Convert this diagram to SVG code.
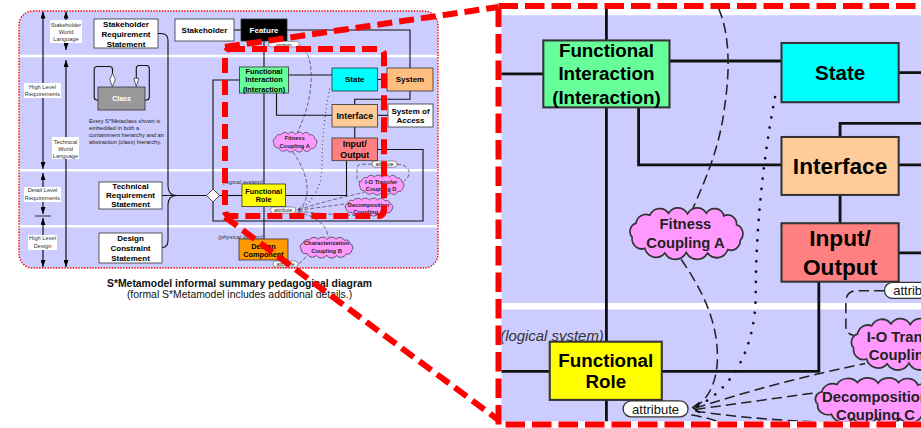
<svg xmlns="http://www.w3.org/2000/svg" xmlns:xlink="http://www.w3.org/1999/xlink" width="921" height="428" viewBox="0 0 921 428">
<style>
.bg{fill:#CCCCFF}
.lane{stroke:#FFFFFF;stroke-width:2.5}
.box{stroke:#333;stroke-width:0.8}
.t{font-family:"Liberation Sans",Arial,sans-serif;font-weight:bold;text-anchor:middle;fill:#000}
.conn{fill:none;stroke:#111;stroke-width:1.1}
.dash{fill:none;stroke:#222;stroke-width:0.6;stroke-dasharray:4 2}
.dot{fill:none;stroke:#111;stroke-width:1.05;stroke-dasharray:0.01 4;stroke-linecap:round}
.pill{fill:#FFFFFF;stroke:#333;stroke-width:0.5}
.pt{font-family:"Liberation Sans",Arial,sans-serif;font-size:5.05px;text-anchor:middle;fill:#111}
.cloud{fill:#FF99FF;stroke:#333;stroke-width:1.3}
.ct{font-family:"Liberation Sans",Arial,sans-serif;font-weight:bold;font-size:5.75px;text-anchor:middle;fill:#222}
.lbl{font-family:"Liberation Sans",Arial,sans-serif;font-size:5.7px;text-anchor:middle;fill:#333}
.note{font-family:"Liberation Sans",Arial,sans-serif;font-size:5.7px;fill:#222}
.sys{font-family:"Liberation Sans",Arial,sans-serif;font-style:italic;font-size:5.8px;text-anchor:end;fill:#333}
.arr{stroke:#000;stroke-width:1.1;marker-start:url(#ah);marker-end:url(#ah)}
.red{fill:none;stroke:#FF0000;stroke-width:6;stroke-dasharray:15 7}
.cap{font-family:"Liberation Sans",Arial,sans-serif;font-size:10.4px;text-anchor:middle;fill:#111}
</style>
<defs>
<marker id="ah" viewBox="0 0 10 10" refX="10" refY="5" markerUnits="userSpaceOnUse" markerWidth="7" markerHeight="5" preserveAspectRatio="none" orient="auto-start-reverse">
<path d="M0,0 L10,5 L0,10 z" fill="#000"/>
</marker>
<path id="cloudShape" d="M10,13 A8,8 0 0 1 21,7 A9,9 0 0 1 36,5.5 A9,9 0 0 1 51,6 A9,9 0 0 1 66,5.5 A8,8 0 0 1 80,7.5 A7,7 0 0 1 90,14 A6.5,6.5 0 0 1 93,25 A7.5,7.5 0 0 1 83,32 A9.5,9.5 0 0 1 67,34.5 A10,10 0 0 1 50,34 A10,10 0 0 1 33,34.5 A9.5,9.5 0 0 1 17,31 A7.5,7.5 0 0 1 7,23 A6,6 0 0 1 10,13 Z"/>
<clipPath id="zc"><rect x="501.5" y="8.8" width="420" height="412.5"/></clipPath>
</defs>
<rect width="921" height="428" fill="#FFFFFF"/>

<g id="panel">
<rect class="bg" x="19" y="11" width="419" height="257" rx="14"/>
<line class="lane" x1="19" y1="56" x2="438" y2="56"/>
<line class="lane" x1="19" y1="170.2" x2="438" y2="170.2"/>
<line class="lane" x1="19" y1="226.2" x2="438" y2="226.2"/>

<g id="lane-arrows">
<line class="arr" x1="43" y1="11.5" x2="43" y2="169"/>
<line class="arr" x1="43" y1="173" x2="43" y2="214"/>
<line x1="35" y1="216" x2="51" y2="216" stroke="#000" stroke-width="0.8"/>
<line class="arr" x1="43" y1="218" x2="43" y2="267"/>
<line class="arr" x1="66" y1="11.5" x2="66" y2="50"/>
<line class="arr" x1="66" y1="60" x2="66" y2="267"/>
<rect x="50" y="20" width="32" height="23" fill="#fff"/>
<text class="lbl" x="66" y="27">Stakeholder</text>
<text class="lbl" x="66" y="33.8">World</text>
<text class="lbl" x="66" y="41">Language</text>
<rect x="24" y="83" width="37" height="15" fill="#fff"/>
<text class="lbl" x="42.5" y="88.8">High Level</text>
<text class="lbl" x="42.5" y="96.3">Requirements</text>
<rect x="52" y="137" width="27" height="22" fill="#fff"/>
<text class="lbl" x="65.5" y="143.7">Technical</text>
<text class="lbl" x="65.5" y="151">World</text>
<text class="lbl" x="65.5" y="158">Language</text>
<rect x="24" y="187" width="37" height="15" fill="#fff"/>
<text class="lbl" x="42.5" y="192.2">Detail Level</text>
<text class="lbl" x="42.5" y="199.7">Requirements</text>
<rect x="28" y="235" width="29" height="15" fill="#fff"/>
<text class="lbl" x="42.5" y="240.4">High Level</text>
<text class="lbl" x="42.5" y="247.8">Design</text>
</g>

<text class="sys" x="263" y="183.9">(logical system)</text>
<text class="sys" x="263" y="238.9">(physical system)</text>

<g id="connectors">
<path class="conn" d="M234,30 H241"/>
<path class="conn" d="M287,30 H410 V68"/>
<path class="conn" d="M264,41 V67.5 M264,93 V184 M264,206.6 V239"/>
<path class="conn" d="M239.5,80 H213 V189"/>
<path class="conn" d="M219.5,195.5 H242"/>
<path class="conn" d="M213,202 V221 H423 V149.5 H377.5"/>
<path class="conn" d="M285.5,195.5 H346.5 V160.7"/>
<path class="conn" d="M288.5,75 H332"/>
<path class="conn" d="M377.5,79.5 H387"/>
<path class="conn" d="M410,91 V99.2 H354.75 V104.5"/>
<path class="conn" d="M276.5,93 V115.3 H332"/>
<path class="conn" d="M377.5,115.3 H388"/>
<path class="conn" d="M354.75,127 V138"/>
<path class="conn" d="M158,33.5 H161 Q168,33.5 168,40.5 V186 Q168,195.5 177,195.5 H206.5 M162,247.5 Q168,247.5 168,240.5 V205 Q168,195.5 177,195.5 M162,195.5 H177"/>
<path class="conn" d="M112.5,73.3 V69.5 Q112.5,66.5 109.5,66.5 H97 Q94.2,66.5 94.2,69.5 V97 Q94.2,100 97,100 H98"/>
<path class="conn" d="M136.3,78.3 V68.5 Q136.3,65.5 139.3,65.5 H146.3 Q149.3,65.5 149.3,68.5 V97 Q149.3,100 146.3,100 H145"/>
<path class="dash" d="M300,45.5 C311,52 313,72 310,92 C308,110 301,124 297.5,132.5"/>
<path class="dash" d="M293,152 C302,165 308,178 307,193 C306,203 302,207 298.5,209.5"/>
<path class="dot" d="M329.5,89 C325,112 322,140 322,165 C322,188 312,203 298.5,209.5"/>
<path class="dash" d="M298.5,209.8 Q332,199 364.5,192.5"/>
<path class="dash" d="M298.5,210.3 L345.5,203.8"/>
<path class="dash" d="M298.5,211 Q335,216 372,215.5"/>
<path class="dash" d="M297,212.5 C314,215 327,224 328,237"/>
<path class="dash" d="M306,256.5 Q302,262 298,264"/>
<path class="dash" d="M372,164.2 H361.5 Q357,164.2 357,168.7 V178 Q357,181 360,181.5"/>
<path class="dash" d="M397,164.2 C409,164.5 414,174 403.5,181.5"/>
<polyline points="300.2,207.6 297.6,209.6 300.2,211.6" fill="none" stroke="#111" stroke-width="0.6"/>
</g>

<g id="class-note">
<rect class="box" x="98" y="87" width="47" height="23" fill="#999999"/>
<path d="M112.5,73.3 L115.3,79.6 L112.5,86.5 L109.7,79.6 Z" fill="#fff" stroke="#222" stroke-width="0.7"/>
<path d="M133.8,78.3 L138.8,78.3 L136.3,86.6 Z" fill="#fff" stroke="#222" stroke-width="0.7"/>
<text class="t" x="121.5" y="101" font-size="7" fill="#fff" style="fill:#fff">Class</text>
<text class="note" x="89" y="123">Every S*Metaclass shown is</text>
<text class="note" x="89" y="130">embedded in both a</text>
<text class="note" x="89" y="137">containment hierarchy and an</text>
<text class="note" x="89" y="143.8">abstraction (class) hierarchy.</text>
</g>

<g id="diamond">
<path d="M213,189 L219.5,195.5 L213,202 L206.5,195.5 Z" fill="#fff" stroke="#222" stroke-width="0.8"/>
</g>

<g id="stakeholder-requirement-statement">
<rect class="box" x="94" y="19" width="64" height="29" fill="#fff"/>
<text class="t" font-size="8" x="126" y="26.8">Stakeholder</text>
<text class="t" font-size="8" x="126" y="36.8">Requirement</text>
<text class="t" font-size="8" x="126" y="46.8">Statement</text>
</g>
<g id="stakeholder">
<rect class="box" x="175" y="19" width="59" height="22" fill="#fff"/>
<text class="t" font-size="8" x="204.5" y="32.8">Stakeholder</text>
</g>
<g id="feature">
<rect class="box" x="241" y="19" width="46" height="22" fill="#000"/>
<text class="t" font-size="8" x="264" y="32.8" style="fill:#fff">Feature</text>
<rect class="pill" x="268.3" y="41.3" width="31" height="5.6" rx="2.8"/>
<text class="pt" x="283.8" y="45.6" style="font-size:4.3px">attribute</text>
</g>
<g id="functional-interaction">
<rect class="box" x="239.5" y="67" width="49" height="26" fill="#66FF99"/>
<text class="t" font-size="7.3" x="264" y="73.6">Functional</text>
<text class="t" font-size="7.3" x="264" y="82.4">Interaction</text>
<text class="t" font-size="7.3" x="264" y="91.5">(Interaction)</text>
</g>
<g id="state">
<rect class="box" x="332" y="68" width="45.5" height="23" fill="#00FFFF"/>
<text class="t" font-size="8" x="354.75" y="82.3">State</text>
</g>
<g id="system">
<rect class="box" x="387" y="68" width="46" height="23" fill="#FFBF80"/>
<text class="t" font-size="8" x="410" y="82.3">System</text>
</g>
<g id="interface">
<rect class="box" x="332" y="104.5" width="45.5" height="22.5" fill="#FFCC99"/>
<text class="t" font-size="8.8" x="354.75" y="118.8">Interface</text>
</g>
<g id="system-of-access">
<rect class="box" x="388" y="104" width="45" height="23" fill="#fff"/>
<text class="t" font-size="8" x="410.5" y="113.8">System of</text>
<text class="t" font-size="8" x="410.5" y="122.8">Access</text>
</g>
<g id="input-output">
<rect class="box" x="332" y="138" width="45.5" height="22.7" fill="#FF8080"/>
<text class="t" font-size="8.8" x="354.75" y="146.8">Input/</text>
<text class="t" font-size="8.8" x="354.75" y="158.1">Output</text>
<rect class="pill" x="372" y="161" width="25" height="6.2" rx="3.1"/>
<text class="pt" x="384.5" y="165.9">attribute</text>
</g>
<g id="functional-role">
<rect class="box" x="242" y="184" width="43.5" height="22.6" fill="#FFFF00"/>
<text class="t" font-size="7.3" x="263.75" y="193.7">Functional</text>
<text class="t" font-size="7.3" x="263.75" y="202.1">Role</text>
<rect class="pill" x="270.5" y="207" width="25.2" height="6.2" rx="3.1"/>
<text class="pt" x="283.1" y="211.9">attribute</text>
</g>
<g id="design-component">
<rect class="box" x="239" y="239" width="49" height="21" fill="#FF9900"/>
<text class="t" font-size="7.3" x="263.5" y="248.6">Design</text>
<text class="t" font-size="7.3" x="263.5" y="256.9">Component</text>
<rect class="pill" x="273" y="261" width="25" height="6" rx="3"/>
<text class="pt" x="285.5" y="265.8">attribute</text>
</g>
<g id="technical-requirement-statement">
<rect class="box" x="99" y="182" width="63" height="27" fill="#fff"/>
<text class="t" font-size="8" x="130.5" y="188.8">Technical</text>
<text class="t" font-size="8" x="130.5" y="198.1">Requirement</text>
<text class="t" font-size="8" x="130.5" y="207.4">Statement</text>
</g>
<g id="design-constraint-statement">
<rect class="box" x="99" y="233" width="63" height="30" fill="#fff"/>
<text class="t" font-size="8" x="130.5" y="241.1">Design</text>
<text class="t" font-size="8" x="130.5" y="251.1">Constraint</text>
<text class="t" font-size="8" x="130.5" y="261.1">Statement</text>
</g>
<g id="fitness-coupling-a">
<use href="#cloudShape" class="cloud" transform="translate(270.56 131.14) scale(0.489 0.535)"/>
<text class="ct" x="294.7" y="140.3">Fitness</text>
<text class="ct" x="294.7" y="147.8">Coupling A</text>
</g>
<g id="characterization-coupling-b">
<use href="#cloudShape" class="cloud" transform="translate(297.06 236.1) scale(0.589 0.561)"/>
<text class="ct" x="326.5" y="245.3">Characterization</text>
<text class="ct" x="326.5" y="252.7">Coupling B</text>
</g>
<g id="io-transfer-coupling-d">
<use href="#cloudShape" class="cloud" transform="translate(356.5 174.14) scale(0.5 0.535)"/>
<text class="ct" x="381.2" y="184.2">I-O Transfer</text>
<text class="ct" x="381.2" y="191">Coupling D</text>
</g>
<g id="decomposition-coupling-c">
<use href="#cloudShape" class="cloud" transform="translate(342.33 197.23) scale(0.533 0.481)"/>
<text class="ct" x="368.5" y="207.3">Decomposition</text>
<text class="ct" x="368.5" y="214.4">Coupling C</text>
</g>
</g>

<rect x="19" y="11" width="419" height="257" rx="14" fill="none" stroke="#FF0000" stroke-width="1.4" stroke-dasharray="1.4 1.4"/>

<g id="caption">
<text class="cap" x="239.5" y="286.8" font-weight="bold">S*Metamodel informal summary pedagogical diagram</text>
<text class="cap" x="239.5" y="298.3">(formal S*Metamodel includes additional details.)</text>
</g>

<g id="zoom-view" clip-path="url(#zc)">
<use href="#panel" transform="translate(-73.4 -132.1) scale(2.575)"/>
</g>

<g id="zoom-callout">
<rect x="498.5" y="6" width="440" height="418.5" fill="none" stroke="#FF0000" stroke-width="6" stroke-dasharray="19.5 7"/>
<line class="red" x1="225" y1="47" x2="498.5" y2="7"/>
<line class="red" x1="225" y1="217" x2="498.5" y2="420"/>
<rect class="red" x="225" y="49" width="159" height="167" rx="5"/>
</g>
</svg>
